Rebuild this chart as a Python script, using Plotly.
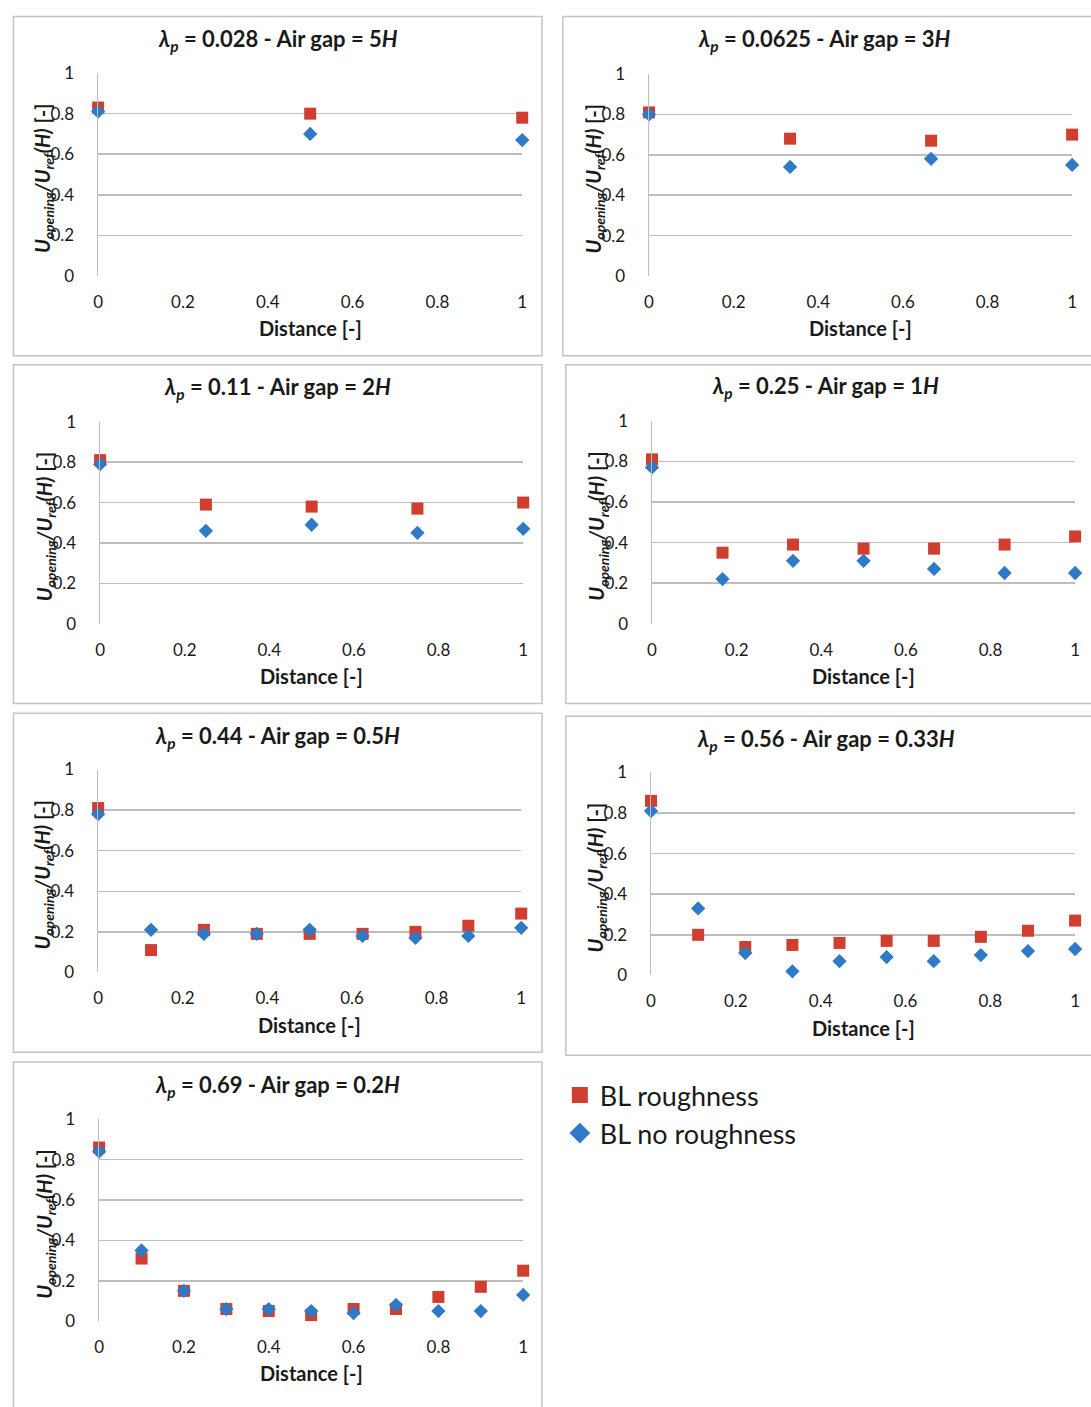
import plotly.graph_objects as go

W, H = 1091, 1407

# ---------------- data ----------------
lambdas = ["0.028", "0.0625", "0.11", "0.25", "0.44", "0.56", "0.69"]
gaps = ["5", "3", "2", "1", "0.5", "0.33", "0.2"]

x1 = [0, 0.5, 1]
rough1 = [0.83, 0.80, 0.78]
norough1 = [0.81, 0.70, 0.67]

x2 = [0, 1/3, 2/3, 1]
rough2 = [0.81, 0.68, 0.67, 0.70]
norough2 = [0.80, 0.54, 0.58, 0.55]

x3 = [0, 0.25, 0.5, 0.75, 1]
rough3 = [0.81, 0.59, 0.58, 0.57, 0.60]
norough3 = [0.79, 0.46, 0.49, 0.45, 0.47]

x4 = [0, 1/6, 2/6, 3/6, 4/6, 5/6, 1]
rough4 = [0.81, 0.35, 0.39, 0.37, 0.37, 0.39, 0.43]
norough4 = [0.77, 0.22, 0.31, 0.31, 0.27, 0.25, 0.25]

x5 = [0, 0.125, 0.25, 0.375, 0.5, 0.625, 0.75, 0.875, 1]
rough5 = [0.81, 0.11, 0.21, 0.19, 0.19, 0.19, 0.20, 0.23, 0.29]
norough5 = [0.78, 0.21, 0.19, 0.19, 0.21, 0.18, 0.17, 0.18, 0.22]

x6 = [0, 1/9, 2/9, 3/9, 4/9, 5/9, 6/9, 7/9, 8/9, 1]
rough6 = [0.86, 0.20, 0.14, 0.15, 0.16, 0.17, 0.17, 0.19, 0.22, 0.27]
norough6 = [0.81, 0.33, 0.11, 0.02, 0.07, 0.09, 0.07, 0.10, 0.12, 0.13]

x7 = [0, 0.1, 0.2, 0.3, 0.4, 0.5, 0.6, 0.7, 0.8, 0.9, 1]
rough7 = [0.86, 0.31, 0.15, 0.06, 0.05, 0.03, 0.06, 0.06, 0.12, 0.17, 0.25]
norough7 = [0.84, 0.35, 0.15, 0.06, 0.06, 0.05, 0.04, 0.08, 0.05, 0.05, 0.13]

xs = [x1, x2, x3, x4, x5, x6, x7]
roughs = [rough1, rough2, rough3, rough4, rough5, rough6, rough7]
noroughs = [norough1, norough2, norough3, norough4, norough5, norough6, norough7]

ytick_vals = [0, 0.2, 0.4, 0.6, 0.8, 1]
ytick_text = ["0", "0.2", "0.4", "0.6", "0.8", "1"]
xtick_vals = [0, 0.2, 0.4, 0.6, 0.8, 1]
xtick_text = ["0", "0.2", "0.4", "0.6", "0.8", "1"]

series_names = ["BL roughness", "BL no roughness"]
x_title = "Distance [-]"

# ---------------- layout geometry (reference pixels) ----------------
plot_px = [
    (94, 522, 63, 269),
    (650, 1077, 64, 269),
    (96, 523, 417, 622),
    (653, 1080, 416, 622),
    (94, 521, 770, 976),
    (652, 1080, 773, 979),
    (95, 523, 1125, 1330),
]
box_px = [
    (8.5, 542, 5.5, 350),
    (563, 1110, 5.5, 350),
    (8.5, 542, 359, 703),
    (566, 1110, 359, 703),
    (8.5, 542, 713, 1057),
    (566, 1110, 716, 1060),
    (8.5, 542, 1067, 1420),
]
title_py = [29, 29, 383, 382, 737, 740, 1091]


def px(x):
    return x / W


def py(y):
    return 1 - y / H


RED = "#CF3E2E"
BLUE = "#2E7AC6"
FONT = "Lato"
TXT = "#1A1A1A"

fig = go.Figure()
layout = dict(
    width=W, height=H, margin=dict(l=0, r=0, t=0, b=0),
    paper_bgcolor="white", plot_bgcolor="white",
    showlegend=True, hovermode=False,
    font=dict(family=FONT, color=TXT),
)
annotations = []
shapes = []

# legend-only entries (no data points drawn)
fig.add_trace(go.Scatter(
    x=[None], y=[None], mode="markers", name=series_names[0],
    marker=dict(symbol="square", size=16, color=RED), showlegend=True,
))
fig.add_trace(go.Scatter(
    x=[None], y=[None], mode="markers", name=series_names[1],
    marker=dict(symbol="diamond", size=16, color=BLUE), showlegend=True,
))

for i in range(7):
    n = i + 1
    xa = "x" if n == 1 else f"x{n}"
    ya = "y" if n == 1 else f"y{n}"
    xl, xr, yt, yb = plot_px[i]
    fig.add_trace(go.Scatter(
        x=xs[i], y=roughs[i], mode="markers", name=series_names[0],
        marker=dict(symbol="square", size=12, color=RED, line=dict(width=0)),
        xaxis=xa, yaxis=ya, cliponaxis=False, showlegend=False,
    ))
    fig.add_trace(go.Scatter(
        x=xs[i], y=noroughs[i], mode="markers", name=series_names[1],
        marker=dict(symbol="diamond", size=11, color=BLUE, line=dict(width=0)),
        xaxis=xa, yaxis=ya, cliponaxis=False, showlegend=False,
    ))
    layout["xaxis" if n == 1 else f"xaxis{n}"] = dict(
        domain=[px(xl), px(xr)], anchor=ya, range=[0, 1],
        tickvals=xtick_vals, ticktext=xtick_text, showgrid=False, zeroline=False,
        showline=False, ticks="", ticklabelstandoff=14, fixedrange=True,
        tickfont=dict(size=17, family=FONT, color=TXT),
    )
    layout["yaxis" if n == 1 else f"yaxis{n}"] = dict(
        domain=[py(yb), py(yt)], anchor=xa, range=[0, 1],
        tickvals=ytick_vals, ticktext=ytick_text, showgrid=True, gridcolor="#BEBEBE",
        gridwidth=1.5, zeroline=False, showline=True, linecolor="#BEBEBE", linewidth=1.5,
        ticks="", ticklabelstandoff=19, fixedrange=True,
        tickfont=dict(size=17, family=FONT, color=TXT),
    )
    # panel border
    bx0, bx1, by0, by1 = box_px[i]
    shapes.append(dict(type="rect", xref="paper", yref="paper",
                       x0=px(bx0), x1=px(bx1), y0=py(by1), y1=py(by0),
                       line=dict(color="#C4C4C4", width=1.5), layer="below"))
    # panel title
    annotations.append(dict(
        xref="paper", yref="paper", x=(px(bx0) + px(min(bx1, 1091))) / 2, y=py(title_py[i]),
        xanchor="center", yanchor="middle",
        text=f"<b><i>λ</i><sub><i>p</i></sub> = {lambdas[i]} - Air gap = {gaps[i]}<i>H</i></b>",
        showarrow=False, font=dict(size=22, family=FONT, color=TXT),
    ))
    # x-axis title
    annotations.append(dict(
        xref="paper", yref="paper", x=(px(xl) + px(xr)) / 2, y=py(yb + 53),
        xanchor="center", yanchor="middle",
        text=f"<b>{x_title}</b>",
        showarrow=False, font=dict(size=20, family=FONT, color=TXT),
    ))
    # y-axis title
    annotations.append(dict(
        xref="paper", yref="paper", x=px(xl - 55), y=py((yt + yb) / 2 + 4),
        xanchor="center", yanchor="middle", textangle=-90,
        text="<b><i>U<sub>opening</sub>/U<sub>ref</sub>(H)</i> [-]</b>",
        showarrow=False, font=dict(size=20, family=FONT, color=TXT),
    ))

layout["annotations"] = annotations
layout["shapes"] = shapes
layout["legend"] = dict(
    x=px(560), y=py(1076), xanchor="left", yanchor="top",
    font=dict(size=27, family=FONT, color=TXT),
    bgcolor="rgba(0,0,0,0)", itemwidth=30, tracegroupgap=0,
)
fig.update_layout(**layout)
fig.write_html(
    "out.html",
    config={"displayModeBar": False, "staticPlot": True},
    post_script="document.body.style.margin='0';document.body.style.overflow='hidden';",
)
